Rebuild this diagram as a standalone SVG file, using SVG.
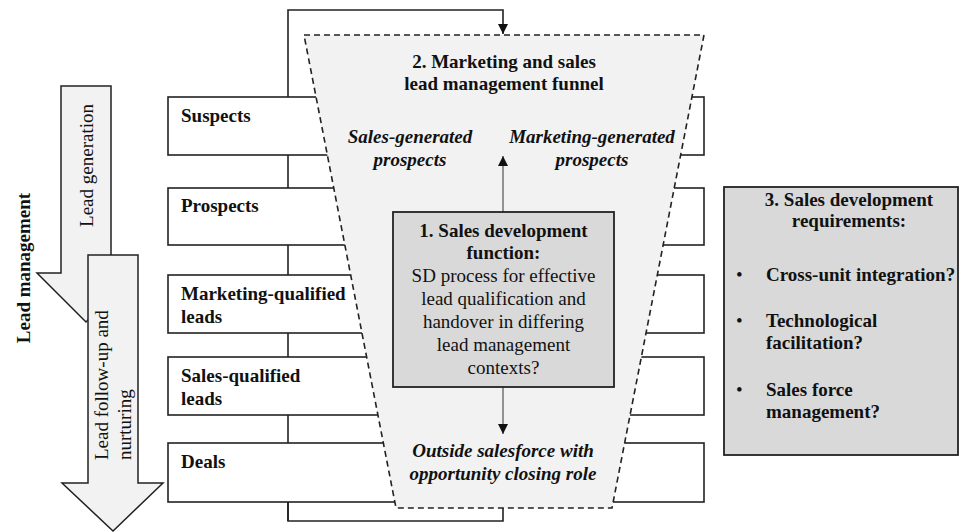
<svg xmlns="http://www.w3.org/2000/svg" width="962" height="532" viewBox="0 0 962 532">
<defs>
<style>
text{font-family:"Liberation Serif","Times New Roman",serif;font-size:19px;fill:#111}
.b{font-weight:bold}
.bi{font-weight:bold;font-style:italic}
.c{text-anchor:middle}
.box{fill:#fff;stroke:#222;stroke-width:1.6}
.grey{fill:#d9d9d9;stroke:#222;stroke-width:1.8}
.arr{fill:#f2f2f2;stroke:#222;stroke-width:1.5}
.conn{fill:none;stroke:#222;stroke-width:1.6}
.thin{fill:none;stroke:#444;stroke-width:1.1}
</style>
<marker id="ah" viewBox="0 0 10 10" refX="10" refY="5" markerWidth="10" markerHeight="10" markerUnits="userSpaceOnUse" orient="auto">
<path d="M0,0 L10,5 L0,10 z" fill="#111"/>
</marker>
</defs>

<g id="connectors">
<polyline class="conn" points="288,97 288,10 503,10 503,34" marker-end="url(#ah)"/>
<line class="conn" x1="288" y1="97" x2="288" y2="521"/>
<polyline class="conn" points="288,502 288,521 503,521 503,508"/>
</g>

<g id="lead-generation-arrow">
<polygon class="arr" points="61,86 111,86 111,273 135,273 86,322 37,273 61,273"/>
<text class="c" transform="translate(93,165.5) rotate(-90)">Lead generation</text>
</g>
<g id="lead-followup-arrow">
<polygon class="arr" points="88,255 138,255 138,483 163,483 113,531 62,483 88,483"/>
<text transform="translate(108,460) rotate(-90)">Lead follow-up and</text>
<text transform="translate(131,460) rotate(-90)">nurturing</text>
</g>
<g id="lead-management-label">
<text class="b c" transform="translate(30,268) rotate(-90)">Lead management</text>
</g>

<g id="suspects"><rect class="box" x="168" y="97" width="536" height="58"/><text class="b" x="181" y="122">Suspects</text></g>
<g id="prospects"><rect class="box" x="168" y="188" width="536" height="57"/><text class="b" x="181" y="212">Prospects</text></g>
<g id="mql"><rect class="box" x="168" y="275" width="536" height="58"/><text class="b" x="181" y="300">Marketing-qualified</text><text class="b" x="181" y="323">leads</text></g>
<g id="sql"><rect class="box" x="168" y="357" width="536" height="58"/><text class="b" x="181" y="382">Sales-qualified</text><text class="b" x="181" y="405">leads</text></g>
<g id="deals"><rect class="box" x="168" y="443" width="536" height="59"/><text class="b" x="181" y="468">Deals</text></g>

<g id="funnel">
<polygon points="304,35 704,35 612,508 396,508" fill="#f2f2f2" stroke="#222" stroke-width="1.6" stroke-dasharray="6,4"/>
<text class="b c" x="504" y="68">2. Marketing and sales</text>
<text class="b c" x="504" y="90">lead management funnel</text>
<text class="bi c" x="410" y="143">Sales-generated</text>
<text class="bi c" x="410" y="166">prospects</text>
<text class="bi c" x="592" y="143">Marketing-generated</text>
<text class="bi c" x="592" y="166">prospects</text>
<line class="thin" x1="503" y1="212" x2="503" y2="156" marker-end="url(#ah)"/>
<line class="thin" x1="503" y1="387" x2="503" y2="434" marker-end="url(#ah)"/>
<text class="bi c" x="503" y="457">Outside salesforce with</text>
<text class="bi c" x="503" y="480">opportunity closing role</text>
</g>

<g id="sales-development-function">
<rect class="grey" x="393" y="212" width="221" height="175"/>
<text class="b c" x="503.5" y="237">1. Sales development</text>
<text class="b c" x="503.5" y="259">function:</text>
<text class="c" x="503.5" y="282">SD process for effective</text>
<text class="c" x="503.5" y="305">lead qualification  and</text>
<text class="c" x="503.5" y="328">handover in differing</text>
<text class="c" x="503.5" y="351">lead management</text>
<text class="c" x="503.5" y="374">contexts?</text>
</g>

<g id="sales-development-requirements">
<rect class="grey" x="724" y="187" width="234" height="268"/>
<text class="b c" x="849" y="206">3. Sales development</text>
<text class="b c" x="849" y="227">requirements:</text>
<text x="736" y="281">•</text><text class="b" x="766" y="281">Cross-unit integration?</text>
<text x="736" y="327">•</text><text class="b" x="766" y="327">Technological</text>
<text class="b" x="766" y="349">facilitation?</text>
<text x="736" y="396">•</text><text class="b" x="766" y="396">Sales force</text>
<text class="b" x="766" y="418">management?</text>
</g>
</svg>
